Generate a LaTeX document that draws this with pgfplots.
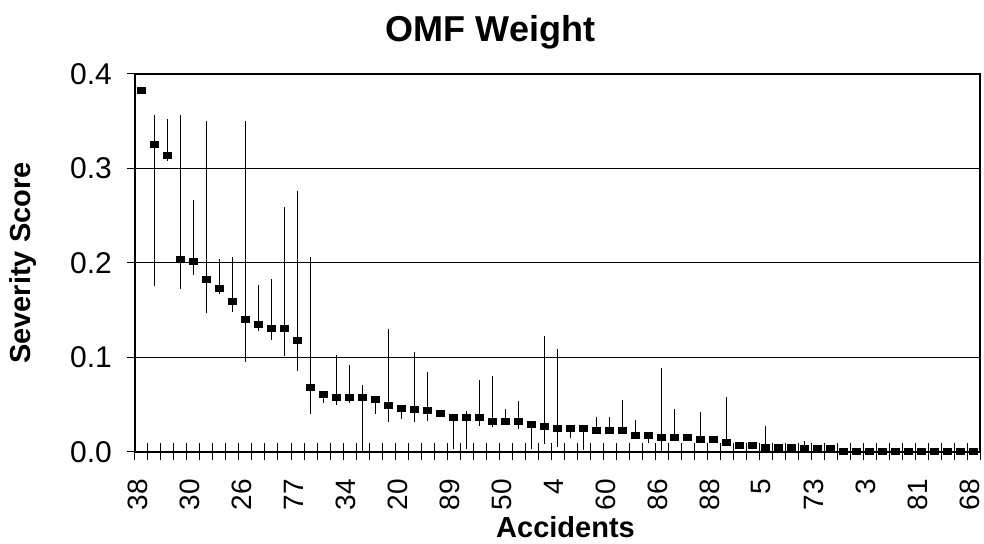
\documentclass[border=0pt]{standalone}
\usepackage{fontspec}
\setmainfont{Liberation Sans}
\usepackage{pgfplots}
\usepackage{pgfplotstable}
\pgfplotsset{compat=1.18}

% accident, score, top and bottom of the range line
\pgfplotstableread{
x y hi lo
0 0.383 0.383 0.383
1 0.326 0.357 0.176
2 0.314 0.352 0.308
3 0.204 0.357 0.173
4 0.202 0.267 0.187
5 0.183 0.350 0.147
6 0.173 0.204 0.167
7 0.159 0.206 0.148
8 0.140 0.350 0.095
9 0.135 0.177 0.128
10 0.131 0.183 0.119
11 0.131 0.259 0.102
12 0.118 0.276 0.086
13 0.068 0.206 0.040
14 0.061 0.061 0.052
15 0.058 0.103 0.050
16 0.058 0.092 0.052
17 0.058 0.071 0.000
18 0.056 0.056 0.040
19 0.049 0.130 0.032
20 0.046 0.046 0.035
21 0.045 0.106 0.032
22 0.044 0.085 0.033
23 0.041 0.041 0.041
24 0.037 0.037 0.003
25 0.037 0.043 0.003
26 0.037 0.076 0.027
27 0.032 0.080 0.026
28 0.032 0.046 0.032
29 0.032 0.054 0.024
30 0.029 0.029 0.003
31 0.027 0.123 0.008
32 0.025 0.109 0.005
33 0.025 0.025 0.015
34 0.025 0.025 0.002
35 0.023 0.037 0.023
36 0.023 0.037 0.023
37 0.023 0.055 0.023
38 0.018 0.034 0.018
39 0.018 0.018 0.010
40 0.015 0.089 0.001
41 0.015 0.046 0.015
42 0.015 0.015 0.015
43 0.013 0.042 0.013
44 0.013 0.013 0.013
45 0.010 0.058 0.006
46 0.007 0.007 0.007
47 0.007 0.007 0.007
48 0.005 0.027 0.005
49 0.005 0.005 0.005
50 0.005 0.005 0.005
51 0.004 0.012 0.004
52 0.004 0.004 0.004
53 0.004 0.004 0.004
54 0.001 0.001 0.001
55 0.001 0.001 0.001
56 0.001 0.001 0.001
57 0.001 0.001 0.001
58 0.001 0.001 0.001
59 0.001 0.001 0.001
60 0.001 0.001 0.001
61 0.001 0.001 0.001
62 0.001 0.001 0.001
63 0.001 0.001 0.001
64 0.001 0.001 0.001
}\omf

\begin{document}
\begin{tikzpicture}
\begin{axis}[
    name=ax,
    scale only axis,
    width=422.5pt,
    height=189pt,
    xmin=-0.5, xmax=64.5,
    ymin=0, ymax=0.4,
    axis line style={line width=1.3pt},
    /pgf/number format/assume math mode=true,
    ytick={0,0.1,0.2,0.3,0.4},
    yticklabel style={/pgf/number format/fixed, /pgf/number format/fixed zerofill,
        /pgf/number format/precision=1, xshift=-4pt, font=\fontsize{15}{15}\selectfont},
    ymajorgrids,
    grid style={black, line width=0.5pt},
    xtick={0,4,...,64},
    xticklabels={38,30,26,77,34,20,89,50,4,60,86,88,5,73,3,81,68},
    minor xtick={-0.5,0.5,...,64.5},
    major x tick style={draw=none},
    minor x tick style={black, line width=0.5pt},
    major y tick style={black, line width=0.5pt},
    tick align=center,
    major tick length=8pt,
    minor tick length=8.5pt,
    xtick pos=lower, ytick pos=left,
    xticklabel style={font=\fontsize{14}{14}\selectfont,
        xshift=-2pt, yshift=-6pt, rotate=90, anchor=east},
    title={\bfseries OMF Weight},
    title style={font=\fontsize{18}{18}\selectfont, at={(axis description cs:0.5,1)},
        anchor=base, yshift=10pt, xshift=-33.5pt},
    xlabel={\bfseries Accidents},
    xlabel style={font=\fontsize{14.5}{14.5}\selectfont, at={(axis description cs:0.5,0)},
        anchor=center, yshift=-37.5pt, xshift=4pt},
    ylabel={\bfseries Severity Score},
    ylabel style={font=\fontsize{14.5}{14.5}\selectfont,
        at={(axis description cs:-0.1325,0.5)}, anchor=center},
]
\addplot[only marks, mark=square*, mark size=1.5pt, mark options={xscale=1.4, black},
    error bars/.cd, y dir=both, y explicit, error mark=none,
    error bar style={black, line width=0.5pt}]
    table[x=x, y=y, y error plus expr=\thisrow{hi}-\thisrow{y},
          y error minus expr=\thisrow{y}-\thisrow{lo}] {\omf};
\end{axis}
\pgfresetboundingbox
\path[use as bounding box] ([shift={(-67.5pt,-46pt)}]ax.south west)
    rectangle ([shift={(2pt,37pt)}]ax.north east);
\end{tikzpicture}
\end{document}
